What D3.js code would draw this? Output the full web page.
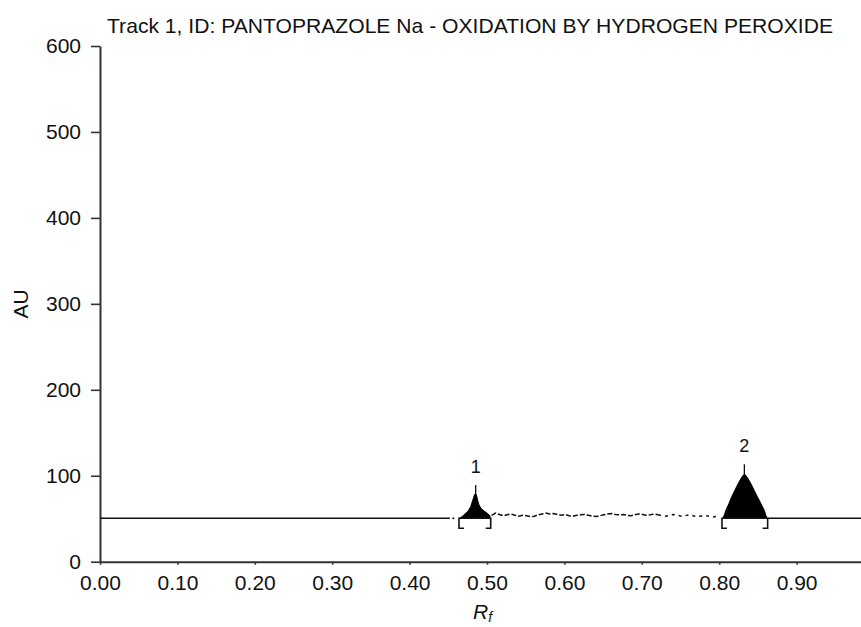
<!DOCTYPE html>
<html><head><meta charset="utf-8">
<script src="https://cdn.jsdelivr.net/npm/d3@7"></script>
<style>
html,body{margin:0;padding:0;background:#fff;}
svg{display:block;font-family:"Liberation Sans",Arial,sans-serif;}
</style></head>
<body><svg id="c" width="861" height="627"></svg>
<script>
// ---- data ----
const title = "Track 1, ID: PANTOPRAZOLE Na - OXIDATION BY HYDROGEN PEROXIDE";
const xTicks = [0, 0.1, 0.2, 0.3, 0.4, 0.5, 0.6, 0.7, 0.8, 0.9];
const yTicks = [0, 100, 200, 300, 400, 500, 600];
const baselineAU = 50.5;
const baseLeftRf = [0, 0.452];
const baseRightRf = [0.8626, 1.0];
const peakLabels = ["1", "2"];
const peakCenterRf = [0.4854, 0.8325];
const peakMarkerTopAU = [89.2, 113.3];
const peakStartRf = [0.4638, 0.8036];
const peakEndRf = [0.5048, 0.8626];
const peak1Rf = [0.466, 0.4716, 0.4759, 0.4789, 0.481, 0.4828, 0.4841, 0.4854, 0.4867, 0.488, 0.4897, 0.4922, 0.4961, 0.5004, 0.5039];
const peak1AU = [51.2, 55.5, 59.3, 64, 69.8, 74.9, 78.4, 79.6, 76.4, 71, 66, 62.1, 59, 56.3, 53.2];
const peak2Rf = [0.8053, 0.8088, 0.8127, 0.8161, 0.8204, 0.8247, 0.829, 0.8325, 0.8363, 0.8407, 0.845, 0.8493, 0.8537, 0.858, 0.8614];
const peak2AU = [51.2, 60.2, 67.9, 75.6, 83.4, 91.2, 98.2, 102, 98.2, 91.2, 83.4, 75.6, 67.9, 60.2, 51.2];
const noiseRf = [0.506,0.511,0.516,0.521,0.526,0.531,0.536,0.541,0.546,0.551,0.556,0.561,0.566,0.571,0.576,0.581,0.586,0.591,0.596,0.601,0.606,0.611,0.616,0.621,0.626,0.631,0.636,0.641,0.646,0.651,0.656,0.661,0.666,0.671,0.676,0.681,0.686,0.691,0.696,0.701,0.706,0.711,0.716,0.721,0.726,0.731,0.736,0.741,0.746,0.751,0.756,0.761,0.766,0.771,0.776,0.781,0.786,0.791,0.796];
const noiseAU = [54,56.5,55,53.5,54.5,55.5,54,53,54,53.5,52.5,53,54.5,55.5,56.5,55.5,56,55,54,55,53.5,53,54,54.5,55,54,53,52.5,53.5,54.5,55.5,56,55,54.5,55,54,53.5,54.5,55.5,55,54,54.5,55.5,54.5,53.5,53,54,55,54,53,53.5,54.5,53.5,52.5,53,54,53,52,52.5];

// ---- chart ----
const svg = d3.select("#c");
const x = d3.scaleLinear().domain([0, 1]).range([100, 874]);
const y = d3.scaleLinear().domain([0, 600]).range([561.7, 46]);
const ink = "#111";
const axisCol = "#333";

// axes
const gx = svg.append("g").attr("transform", `translate(0,${y(0)})`)
  .call(d3.axisBottom(x).tickValues(xTicks).tickFormat(d3.format(".2f")).tickSizeInner(3).tickSizeOuter(0).tickPadding(10));
const gy = svg.append("g").attr("transform", `translate(${x(0)},0)`)
  .call(d3.axisLeft(y).tickValues(yTicks).tickSizeInner(9).tickSizeOuter(0).tickPadding(10));
[gx, gy].forEach(g => {
  g.selectAll("path.domain").attr("stroke", axisCol).attr("stroke-width", 2);
  g.selectAll(".tick line").attr("stroke", axisCol).attr("stroke-width", 1.6);
  g.selectAll(".tick text").attr("fill", ink).attr("font-size", 21).attr("font-family", "Liberation Sans, Arial, sans-serif");
});

// title
svg.append("text").attr("x", 107).attr("y", 32.5).attr("font-size", 21).attr("fill", ink)
  .attr("textLength", 726).attr("lengthAdjust", "spacingAndGlyphs").text(title);

// axis titles
svg.append("text").attr("transform", `translate(28,${(y(0)+y(600))/2}) rotate(-90)`)
  .attr("text-anchor", "middle").attr("font-size", 21).attr("fill", ink).text("AU");
const xl = svg.append("text").attr("x", 473).attr("y", 619).attr("font-size", 21).attr("fill", ink).attr("font-style", "italic");
xl.append("tspan").text("R");
xl.append("tspan").attr("font-size", 14).attr("dy", 3).text("f");

const line = d3.line().x(d => x(d[0])).y(d => y(d[1]));

// baselines
svg.append("path").attr("d", line(baseLeftRf.map(r => [r, baselineAU]))).attr("stroke", ink).attr("stroke-width", 1.5).attr("fill", "none");
svg.append("path").attr("d", line(baseRightRf.map(r => [r, baselineAU]))).attr("stroke", ink).attr("stroke-width", 1.5).attr("fill", "none");
svg.append("circle").attr("cx", x(0.4565)).attr("cy", y(baselineAU)).attr("r", 1).attr("fill", ink);

// noisy dashed trace
const nA = noiseRf.map((r, i) => [r, noiseAU[i]]);
svg.append("path").attr("d", line(nA.filter(d => d[0] <= 0.722))).attr("stroke", ink).attr("stroke-width", 1.5)
  .attr("fill", "none").attr("stroke-dasharray", "5,2");
svg.append("path").attr("d", line(nA.filter(d => d[0] >= 0.72))).attr("stroke", ink).attr("stroke-width", 1.5)
  .attr("fill", "none").attr("stroke-dasharray", "3,4");

// peaks
const area = d3.area().x(d => x(d[0])).y0(y(baselineAU)).y1(d => y(d[1]));
[[peak1Rf, peak1AU], [peak2Rf, peak2AU]].forEach(([rf, au], k) => {
  const pts = rf.map((r, i) => [r, au[i]]);
  svg.append("path").attr("d", area(pts)).attr("fill", "#000").attr("stroke", "#000").attr("stroke-width", 1);
  const apex = d3.max(au);
  svg.append("line").attr("x1", x(peakCenterRf[k])).attr("x2", x(peakCenterRf[k]))
    .attr("y1", y(apex)).attr("y2", y(peakMarkerTopAU[k])).attr("stroke", ink).attr("stroke-width", 1.3);
  svg.append("text").attr("x", x(peakCenterRf[k])).attr("y", y(peakMarkerTopAU[k]) - 12)
    .attr("text-anchor", "middle").attr("font-size", 18).attr("fill", ink).text(peakLabels[k]);
  const yb = y(baselineAU), yt = y(38.9);
  const xl0 = x(peakStartRf[k]), xr0 = x(peakEndRf[k]);
  svg.append("path").attr("d", `M${xl0+5},${yb}H${xl0}V${yt}H${xl0+5}`).attr("stroke", ink).attr("stroke-width", 1.6).attr("fill", "none");
  svg.append("path").attr("d", `M${xr0-5},${yb}H${xr0}V${yt}H${xr0-5}`).attr("stroke", ink).attr("stroke-width", 1.6).attr("fill", "none");
  svg.append("line").attr("x1", xl0).attr("x2", xr0).attr("y1", yb).attr("y2", yb).attr("stroke", ink).attr("stroke-width", 1.5);
});
</script></body></html>
